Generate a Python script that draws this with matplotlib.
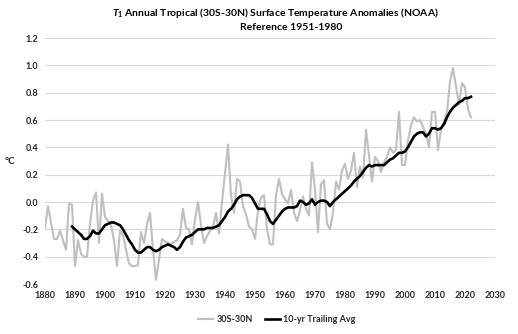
import numpy as np
import matplotlib
matplotlib.use('Agg')
import matplotlib.pyplot as plt
from matplotlib.lines import Line2D

plt.rcParams['font.family'] = ['Lato', 'DejaVu Sans']
plt.rcParams['mathtext.fontset'] = 'custom'
plt.rcParams['mathtext.it'] = 'Lato:italic:bold'
plt.rcParams['mathtext.rm'] = 'Lato:bold'

# annual anomalies 30S-30N, 1880-2022
years = np.arange(1880, 2023)
anom = [
    -0.19, -0.03, -0.15, -0.27, -0.27, -0.21, -0.28, -0.35, -0.01, -0.02,   # 1880s
    -0.47, -0.28, -0.38, -0.40, -0.40, -0.16, 0.01, 0.07, -0.30, 0.06,      # 1890s
    -0.11, -0.14, -0.17, -0.28, -0.47, -0.21, -0.24, -0.35, -0.45, -0.47,   # 1900s
    -0.47, -0.46, -0.22, -0.30, -0.16, -0.08, -0.35, -0.57, -0.42, -0.27,   # 1910s
    -0.29, -0.30, -0.31, -0.29, -0.28, -0.24, -0.05, -0.19, -0.20, -0.31,   # 1920s
    -0.13, 0.00, -0.17, -0.30, -0.25, -0.21, -0.18, -0.08, -0.23, 0.00,     # 1930s
    0.21, 0.42, 0.05, -0.08, 0.17, 0.15, -0.03, -0.09, -0.18, -0.20,        # 1940s
    -0.27, -0.06, 0.03, 0.05, -0.20, -0.31, -0.31, 0.05, 0.17, 0.06,       # 1950s
    0.02, -0.01, 0.09, -0.08, -0.14, -0.06, 0.04, -0.05, -0.10, 0.29,      # 1960s
    0.09, -0.22, 0.13, 0.16, -0.16, -0.20, -0.08, 0.15, 0.09, 0.23,        # 1970s
    0.28, 0.17, 0.23, 0.36, 0.11, 0.26, 0.18, 0.53, 0.34, 0.15,            # 1980s
    0.33, 0.30, 0.22, 0.29, 0.33, 0.40, 0.36, 0.38, 0.66, 0.27,            # 1990s
    0.27, 0.45, 0.56, 0.62, 0.59, 0.60, 0.55, 0.50, 0.40, 0.66,            # 2000s
    0.66, 0.38, 0.53, 0.59, 0.66, 0.88, 0.98, 0.85, 0.71, 0.87,            # 2010s
    0.84, 0.68, 0.62,                                                      # 2020s
]

# 10-yr trailing average, 1889-2022
avg_years = np.arange(1889, 2023)
avg10 = [
    -0.18,
    -0.20, -0.22, -0.24, -0.27, -0.27, -0.25, -0.21, -0.23, -0.23, -0.20,
    -0.17, -0.16, -0.15, -0.15, -0.16, -0.17, -0.20, -0.24, -0.28, -0.31,
    -0.35, -0.37, -0.37, -0.35, -0.33, -0.33, -0.35, -0.36, -0.35, -0.33,
    -0.32, -0.31, -0.32, -0.33, -0.35, -0.33, -0.29, -0.26, -0.25, -0.24,
    -0.22, -0.20, -0.20, -0.20, -0.19, -0.19, -0.19, -0.18, -0.17, -0.14,
    -0.11, -0.07, -0.05, -0.02, 0.02, 0.04, 0.05, 0.05, 0.05, 0.03,
    -0.01, -0.05, -0.05, -0.05, -0.09, -0.14, -0.16, -0.13, -0.10, -0.07,
    -0.05, -0.04, -0.04, -0.04, -0.03, 0.01, 0.00, -0.02, -0.01, 0.02,
    -0.02, 0.00, 0.01, 0.01, 0.00, -0.03, 0.00, 0.02, 0.04, 0.06,
    0.08, 0.10, 0.12, 0.15, 0.17, 0.19, 0.22, 0.25, 0.27, 0.26,
    0.27, 0.27, 0.27, 0.27, 0.29, 0.31, 0.32, 0.34, 0.36, 0.36,
    0.37, 0.40, 0.44, 0.48, 0.50, 0.51, 0.51, 0.48, 0.50, 0.54,
    0.54, 0.53, 0.54, 0.57, 0.62, 0.66, 0.69, 0.71, 0.73, 0.74,
    0.76, 0.76, 0.77,
]

xticks = list(range(1880, 2031, 10))
yticks = [-0.6, -0.4, -0.2, 0.0, 0.2, 0.4, 0.6, 0.8, 1.0, 1.2]
txt = '#262626'

fig = plt.figure(figsize=(5.18, 3.34), dpi=100)
ax = fig.add_axes([45 / 518, 50 / 334, 450 / 518, 246 / 334])

ax.plot(years, anom, color='#BFBFBF', lw=1.5, zorder=2)
ax.plot(avg_years, avg10, color='black', lw=1.9, zorder=3)

ax.set_xlim(1880, 2030)
ax.set_ylim(-0.6, 1.2)
ax.set_xticks(xticks)
ax.set_xticklabels([str(t) for t in xticks], fontsize=6.5, fontweight='bold', color=txt)
ax.set_yticks(yticks)
ax.set_yticklabels(['%.1f' % t for t in yticks], fontsize=6.5, fontweight='bold', color=txt)
ax.tick_params(length=0, pad=5)
ax.grid(axis='y', color='#D9D9D9', lw=0.8)
ax.set_axisbelow(True)
for s in ax.spines.values():
    s.set_visible(False)

fig.text(10 / 518, 1 - 162 / 334, '°C', fontsize=7, fontweight='bold', ha='center', va='center',
         color=txt)

fig.text(275 / 518, 1 - 13 / 334,
         r'$\mathit{T}_\mathit{1}$' + ' Annual Tropical (30S-30N) Surface Temperature Anomalies (NOAA)',
         fontsize=7.5, fontweight='bold', ha='center', va='center', color='black')
fig.text(291 / 518, 1 - 28 / 334, 'Reference 1951-1980',
         fontsize=7.5, fontweight='bold', ha='center', va='center', color='black')

handles = [Line2D([], [], color='#BFBFBF', lw=1.5), Line2D([], [], color='black', lw=1.9)]
fig.legend(handles, ['30S-30N', '10-yr Trailing Avg'], loc='center',
           bbox_to_anchor=(277 / 518, 1 - 320 / 334), ncol=2, frameon=False,
           prop={'size': 6.5, 'weight': 'bold'}, handlelength=1.6,
           handletextpad=0.4, columnspacing=1.4, labelcolor=txt)

fig.savefig('out.png', dpi=100)
